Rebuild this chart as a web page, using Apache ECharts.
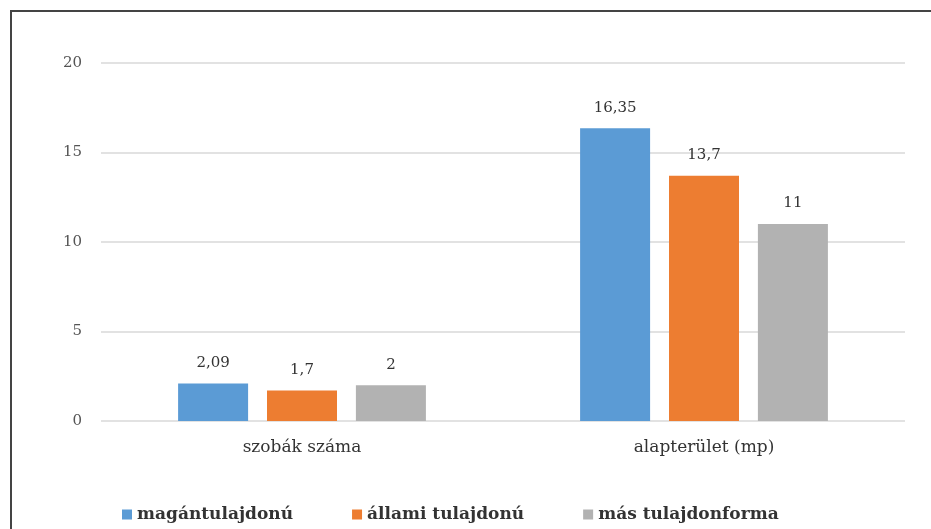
<!DOCTYPE html>
<html>
<head>
<meta charset="utf-8">
<script src="https://cdn.jsdelivr.net/npm/echarts@6/dist/echarts.min.js"></script>
<style>
html,body{margin:0;padding:0;background:#fff;}
#chart{width:931px;height:529px;}
</style>
</head>
<body>
<div id="chart"></div>
<script>
var categories = ['szobák száma', 'alapterület (mp)'];
var seriesNames = ['magántulajdonú', 'állami tulajdonú', 'más tulajdonforma'];
var maganValues = [2.09, 16.35];
var allamiValues = [1.7, 13.7];
var masValues = [2, 11];
var colors = ['#5B9BD5', '#ED7D31', '#B2B2B2'];

var serif = '"DejaVu Serif", "Liberation Serif", serif';
function fmt(v){ return String(v).replace('.', ','); }

var chart = echarts.init(document.getElementById('chart'));
var dataSets = [maganValues, allamiValues, masValues];
chart.setOption({
  animation: false,
  graphic: [{
    type: 'polyline',
    shape: { points: [[11, 529], [11, 11], [931, 11]] },
    style: { stroke: '#444', lineWidth: 2, fill: null }
  }],
  grid: { left: 101, right: 26, top: 63, bottom: 108 },
  legend: {
    bottom: 1,
    left: 117,
    itemWidth: 10,
    itemHeight: 10,
    itemGap: 59,
    icon: 'rect',
    textStyle: { fontFamily: serif, fontSize: 17, fontWeight: 'bold', color: '#333' },
    data: seriesNames
  },
  xAxis: {
    type: 'category',
    data: categories,
    axisLine: { show: false },
    axisTick: { show: false },
    axisLabel: { fontFamily: serif, fontSize: 17, color: '#333', margin: 18 }
  },
  yAxis: {
    type: 'value',
    min: 0, max: 20, interval: 5,
    axisLabel: { fontFamily: serif, fontSize: 15, color: '#555', margin: 19 },
    splitLine: { lineStyle: { color: '#e2e2e2', width: 2 } }
  },
  series: dataSets.map(function(d, i){
    return {
      name: seriesNames[i],
      type: 'bar',
      data: d,
      barWidth: 70,
      barGap: '27%',
      itemStyle: { color: colors[i] },
      label: {
        show: true, position: 'top', distance: 13,
        fontFamily: serif, fontSize: 15, color: '#333',
        formatter: function(p){ return fmt(p.value); }
      }
    };
  })
});
</script>
</body>
</html>
